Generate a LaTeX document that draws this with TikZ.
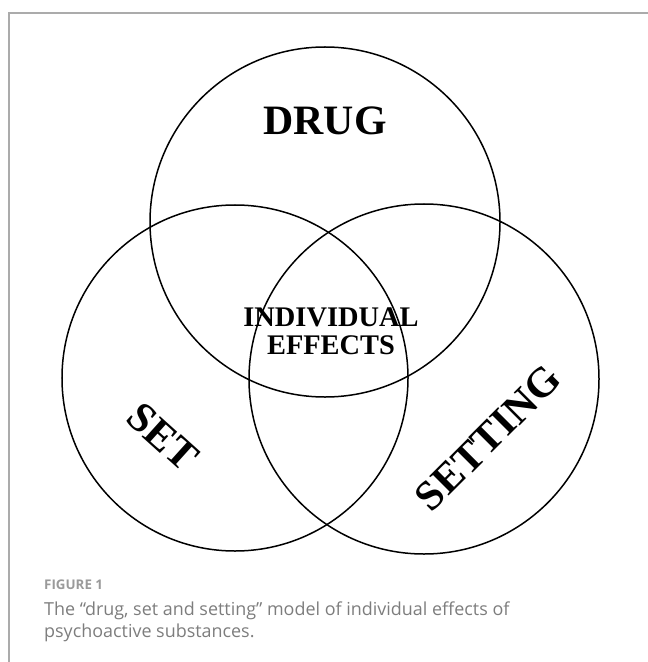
\documentclass[tikz,border=0pt]{standalone}
\usepackage{fontspec}
\setmainfont{Liberation Serif}
\newfontfamily\capfont{Open Sans}
\definecolor{framegray}{HTML}{ABABAB}
\definecolor{capgray}{HTML}{7D7D7D}
\definecolor{figgray}{HTML}{9A9A9A}

\begin{document}
\begin{tikzpicture}[x=1bp, y=-1bp,
  circ/.style={line width=1.5bp},
  term/.style={font=\fontsize{42}{42}\selectfont\bfseries, inner sep=0pt},
  captext/.style={anchor=base west, inner sep=0pt, text=capgray, font=\capfont\fontsize{18}{21}\selectfont}]
\useasboundingbox (0,0) rectangle (648,662);
\coordinate (F1) at (9,662);
\coordinate (F2) at (9,13);
\coordinate (F3) at (648,13);

\coordinate (D) at (325,222);
\coordinate (S) at (235,378);
\coordinate (G) at (424,379);

\draw[framegray, line width=1.4bp] (F1) -- (F2) -- (F3);

\draw[circ] (D) circle[radius=175bp];
\draw[circ] (S) circle[radius=173bp];
\draw[circ] (G) circle[radius=175bp];

\node[term] (drug) at (325,121) {DRUG};
\node[term, font=\fontsize{28.5}{28}\selectfont\bfseries, align=center] (effects) at (331,331) {INDIVIDUAL\\EFFECTS};
\node[term, rotate=-42] (set) at (163,437) {SET};
\node[term, rotate=45] (setting) at (488,438) {SETTING};

\node[captext, text=figgray, font=\capfont\bfseries\fontsize{13.4}{16}\selectfont] (fig) at (44,589) {FIGURE 1};
\node[captext] (cap1) at (44,615) {The “drug, set and setting” model of individual effects of};
\node[captext] (cap2) at (44,637) {psychoactive substances.};
\end{tikzpicture}
\end{document}
